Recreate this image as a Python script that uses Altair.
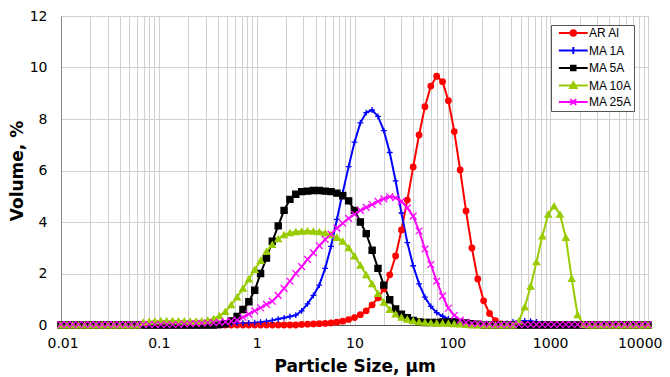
import altair as alt
import pandas as pd

# Particle size classes (µm)
sizes = [
    0.0100, 0.0115, 0.0132, 0.0151, 0.0174, 0.0200, 0.0229, 0.0263, 0.0302, 0.0347,
    0.0398, 0.0457, 0.0525, 0.0603, 0.0692, 0.0794, 0.0912, 0.1047, 0.1202, 0.1380,
    0.1585, 0.1820, 0.2089, 0.2399, 0.2754, 0.3162, 0.3631, 0.4169, 0.4786, 0.5495,
    0.6310, 0.7244, 0.8318, 0.9550, 1.0965, 1.2589, 1.4454, 1.6596, 1.9055, 2.1878,
    2.5119, 2.8840, 3.3113, 3.8019, 4.3652, 5.0119, 5.7544, 6.6069, 7.5858, 8.7096,
    10.000, 11.482, 13.183, 15.136, 17.378, 19.953, 22.909, 26.303, 30.200, 34.674,
    39.811, 45.709, 52.481, 60.256, 69.183, 79.433, 91.201, 104.71, 120.23, 138.04,
    158.49, 181.97, 208.93, 239.88, 275.42, 316.23, 363.08, 416.87, 478.63, 549.54,
    630.96, 724.44, 831.76, 954.99, 1096.5, 1258.9, 1445.4, 1659.6, 1905.5, 2187.8,
    2511.9, 2884.0, 3311.3, 3801.9, 4365.2, 5011.9, 5754.4, 6606.9, 7585.8, 8709.6,
    10000.0,
]

ar_al = (
    [0.0] * 40
    + [0.0, 0.02, 0.03, 0.04, 0.05, 0.06, 0.08, 0.11, 0.15, 0.21]
    + [0.29, 0.40, 0.55, 0.78, 1.05, 1.40, 1.95, 2.68, 3.69, 4.85]
    + [6.14, 7.38, 8.48, 9.28, 9.66, 9.45, 8.71, 7.51, 6.02, 4.43]
    + [2.99, 1.79, 0.94, 0.45, 0.17, 0.04, 0.0, 0.0, 0.0, 0.0]
    + [0.0] * 21
)
ma_1a = (
    [0.0] * 26
    + [0.02, 0.03, 0.04, 0.05]
    + [0.06, 0.07, 0.08, 0.09, 0.11, 0.14, 0.18, 0.23, 0.28, 0.33]
    + [0.38, 0.55, 0.82, 1.15, 1.55, 2.20, 3.05, 4.10, 5.15, 6.15]
    + [7.10, 7.85, 8.25, 8.35, 8.10, 7.55, 6.70, 5.60, 4.35, 3.20]
    + [2.30, 1.60, 1.08, 0.72, 0.48, 0.34, 0.24, 0.16, 0.10, 0.06]
    + [0.04, 0.03, 0.03, 0.03, 0.03, 0.04, 0.06, 0.12, 0.15, 0.16]
    + [0.15, 0.12, 0.05, 0.0, 0.0, 0.0, 0.0, 0.0, 0.0, 0.0]
    + [0.0] * 11
)
ma_5a = (
    [0.0] * 27
    + [0.02, 0.05, 0.16]
    + [0.33, 0.60, 0.90, 1.35, 2.00, 2.60, 3.25, 3.85, 4.45, 4.88]
    + [5.08, 5.18, 5.20, 5.22, 5.22, 5.20, 5.18, 5.12, 5.02, 4.82]
    + [4.45, 4.00, 3.55, 2.90, 2.20, 1.55, 0.98, 0.62, 0.42, 0.28]
    + [0.18, 0.12, 0.10, 0.10, 0.10, 0.12, 0.12, 0.12, 0.10, 0.08]
    + [0.05, 0.03, 0.0, 0.0, 0.0, 0.0, 0.0, 0.0, 0.0, 0.0]
    + [0.0] * 21
)
ma_10a = (
    [0.0] * 14
    + [0.10, 0.13, 0.15, 0.16, 0.16, 0.16]
    + [0.15, 0.15, 0.14, 0.14, 0.15, 0.18, 0.24, 0.36, 0.52, 0.78]
    + [1.08, 1.42, 1.78, 2.15, 2.50, 2.85, 3.12, 3.35, 3.50, 3.58]
    + [3.62, 3.64, 3.65, 3.64, 3.62, 3.57, 3.50, 3.40, 3.25, 3.00]
    + [2.68, 2.32, 1.95, 1.60, 1.22, 0.88, 0.60, 0.42, 0.30, 0.22]
    + [0.16, 0.12, 0.10, 0.08, 0.07, 0.07, 0.06, 0.05, 0.04, 0.02]
    + [0.0, 0.0, 0.0, 0.0, 0.0, 0.0, 0.0, 0.0, 0.15, 0.70]
    + [1.50, 2.45, 3.45, 4.30, 4.62, 4.30, 3.40, 1.80, 0.40, 0.02]
    + [0.0] * 11
)
ma_25a = (
    [0.02] * 21
    + [0.04, 0.05, 0.06, 0.07, 0.08, 0.09, 0.10, 0.12, 0.15]
    + [0.19, 0.30, 0.42, 0.55, 0.67, 0.80, 0.92, 1.15, 1.42, 1.70]
    + [2.00, 2.27, 2.55, 2.80, 3.08, 3.32, 3.53, 3.76, 3.95, 4.14]
    + [4.30, 4.45, 4.57, 4.68, 4.80, 4.90, 4.98, 4.94, 4.80, 4.55]
    + [4.23, 3.65, 2.95, 2.35, 1.70, 1.12, 0.65, 0.37, 0.19, 0.10]
    + [0.06, 0.05, 0.04, 0.03, 0.02, 0.02, 0.02, 0.02, 0.02, 0.02]
    + [0.02] * 21
)

series_names = ["AR Al", "MA 1A", "MA 5A", "MA 10A", "MA 25A"]
series_values = [ar_al, ma_1a, ma_5a, ma_10a, ma_25a]
series_colors = ["#ff0000", "#0000ff", "#000000", "#99cc00", "#ff00ff"]
# plot markers
series_shapes = ["circle", "M-1,0L1,0M0,-1L0,1", "square", "triangle-up",
                 "M-1,-1L1,1M-1,1L1,-1"]
series_sizes = [30, 45, 22, 40, 36]
# legend keys: a line segment with the marker in its middle
legend_shapes = [
    "M-4.5,0L4.5,0M0.85,0A0.85,0.85,0,1,1,-0.85,0A0.85,0.85,0,1,1,0.85,0Z",
    "M-4.5,0L4.5,0M0,-1.1L0,1.1",
    "M-4.5,0L4.5,0M-0.7,-0.7L0.7,-0.7L0.7,0.7L-0.7,0.7Z",
    "M-4.5,0L4.5,0M0,-1L1,0.75L-1,0.75Z",
    "M-4.5,0L4.5,0M-0.9,-0.9L0.9,0.9M-0.9,0.9L0.9,-0.9",
]

decades = [0.01, 0.1, 1, 10, 100, 1000, 10000]
y_ticks = [0, 2, 4, 6, 8, 10, 12]
x_grid = [round(m * d, 6) for d in decades[:-1] for m in range(1, 10)] + [decades[-1]]

rows = []
for name, vals in zip(series_names, series_values):
    assert len(vals) == len(sizes)
    for s, v in zip(sizes, vals):
        rows.append({"size": s, "volume": v, "series": name})
df = pd.DataFrame(rows)

AXIS_FONT = "DejaVu Sans"
LEG_FONT = "Liberation Sans"
dec_list = ",".join(str(d) for d in decades)
label_expr = f"indexof([{dec_list}], datum.value) >= 0 ? toString(datum.value) : ''"

x_enc = alt.X(
    "size:Q",
    scale=alt.Scale(type="log", domain=[0.01, 10000], nice=False),
    axis=alt.Axis(
        values=x_grid, labelExpr=label_expr, title="Particle Size, µm",
        grid=True, ticks=False, labelOverlap=False,
        labelFlush=True, labelFlushOffset=14,
        labelPadding=11, titlePadding=8, domainColor="#555555",
    ),
)
y_enc = alt.Y(
    "volume:Q",
    scale=alt.Scale(domain=[0, 12], nice=False),
    axis=alt.Axis(
        values=y_ticks, title="Volume, %", grid=True, ticks=False,
        labelPadding=14, titlePadding=3, domainColor="#888888",
    ),
)

legend = alt.Legend(
    orient="none", legendX=490, legendY=9, title=None,
    symbolSize=41, symbolStrokeWidth=2, symbolOffset=14.3, labelOffset=9.6,
    fillColor="white", strokeColor="#555555", padding=2,
    labelFont=LEG_FONT, labelFontSize=12, labelColor="#000000",
    rowPadding=2.5, zindex=1,
)

color_scale = alt.Scale(domain=series_names, range=series_colors)

lines = alt.Chart(df).mark_line(strokeWidth=2).encode(
    x=x_enc,
    y=y_enc,
    color=alt.Color("series:N", scale=color_scale, legend=None),
    detail="series:N",
)

points = alt.Chart(df).mark_point(filled=True, strokeWidth=1.3, opacity=1).encode(
    x=x_enc,
    y=y_enc,
    fill=alt.Fill("series:N", scale=color_scale, legend=None),
    stroke=alt.Stroke("series:N", scale=color_scale, legend=None),
    shape=alt.Shape("series:N", scale=alt.Scale(domain=series_names, range=series_shapes),
                    legend=None),
    size=alt.Size("series:N", scale=alt.Scale(domain=series_names, range=series_sizes),
                  legend=None),
)

# legend-only layer (no marks drawn: empty after the filter)
legend_layer = (
    alt.Chart(df)
    .transform_filter("datum.volume < 0")
    .mark_point(filled=True, strokeWidth=2, opacity=1)
    .encode(
        x=x_enc,
        y=y_enc,
        fill=alt.Fill("series:N", scale=color_scale, legend=legend),
        stroke=alt.Stroke("series:N", scale=color_scale, legend=legend),
        shape=alt.Shape("series:N",
                        scale=alt.Scale(domain=series_names, range=legend_shapes),
                        legend=legend),
    )
)

chart = (
    alt.layer(lines, points, legend_layer)
    .resolve_scale(shape="independent", fill="independent", stroke="independent")
    .properties(
        width=587, height=309,
        padding={"left": 53, "top": 8, "right": 14, "bottom": 52},
        autosize="none",
    )
    .configure_view(stroke="#888888", strokeWidth=1)
    .configure_axis(
        labelFont=AXIS_FONT, titleFont=AXIS_FONT, labelFontSize=14, titleFontSize=17,
        titleFontWeight="bold", labelColor="#000000", titleColor="#000000",
        gridColor="#d0d0d0", gridWidth=1,
    )
)

chart.save("out.html", embed_options={"renderer": "svg", "actions": False})
